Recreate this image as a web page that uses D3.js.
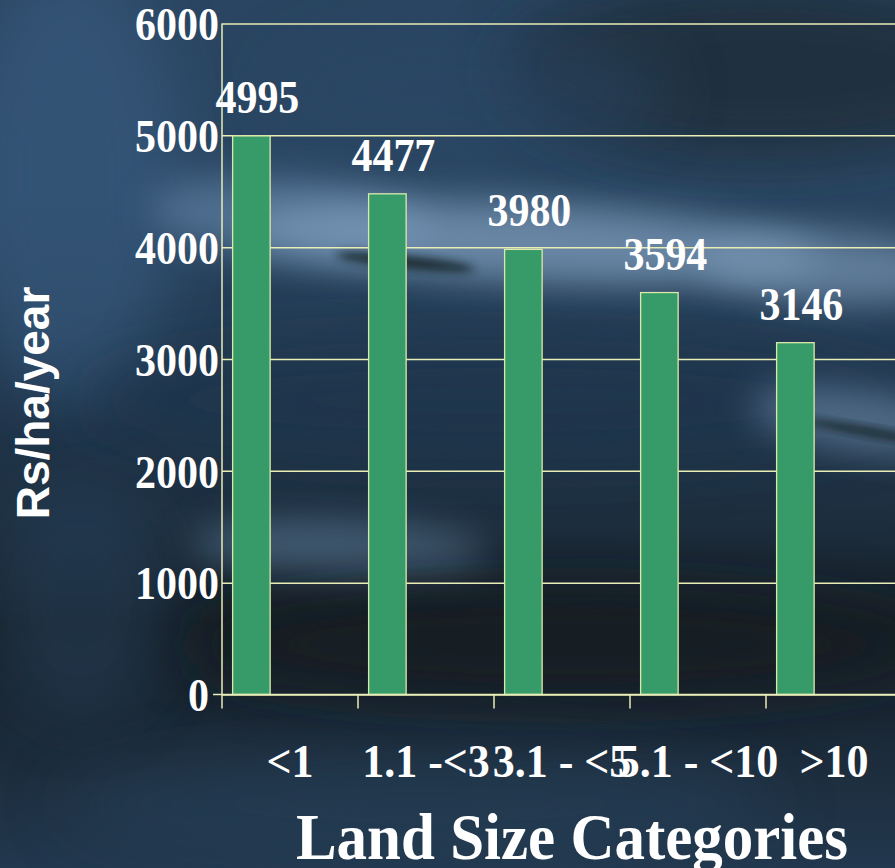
<!DOCTYPE html>
<html>
<head>
<meta charset="utf-8">
<script src="https://cdn.jsdelivr.net/npm/d3@7"></script>
<style>
  html, body { margin: 0; padding: 0; background: #1e3246; }
  svg { display: block; }
</style>
</head>
<body>
<div id="chart"></div>
<script>
// ---- data ----
const categories = ["<1", "1.1 -<3", "3.1 - <5", "5.1 - <10", ">10"];
const values = [4995, 4477, 3980, 3594, 3146];
const yTickValues = [0, 1000, 2000, 3000, 4000, 5000, 6000];
const yTitle = "Rs/ha/year";
const xTitle = "Land Size Categories";

// ---- layout ----
const W = 895, H = 868;
const plot = { left: 222, right: 902, top: 23.5, bottom: 694.5 };
const stretch = 1.08;
const gridColor = "#e9edb6";
const barFill = "#379b69";
const barStroke = "#dbe9aa";

const svg = d3.select("#chart").append("svg").attr("width", W).attr("height", H);
const defs = svg.append("defs");
[["b30", 30], ["b18", 18], ["b8", 8], ["b4", 4]].forEach(([id, s]) => {
  defs.append("filter").attr("id", id).attr("x", "-50%").attr("y", "-50%").attr("width", "200%").attr("height", "200%")
    .append("feGaussianBlur").attr("stdDeviation", s);
});
const lg = defs.append("linearGradient").attr("id", "bgGrad").attr("x1", 0).attr("y1", 0).attr("x2", 0).attr("y2", 1);
[[0, "#2a4561"], [0.22, "#2a4662"], [0.45, "#22384f"], [0.6, "#1d2e3e"], [0.72, "#161f26"], [0.82, "#1a2734"], [1, "#22384e"]]
  .forEach(([o, c]) => lg.append("stop").attr("offset", o).attr("stop-color", c));

// ---- photographic-ish background ----
const bg = svg.append("g");
bg.append("rect").attr("width", W).attr("height", H).attr("fill", "url(#bgGrad)");
const blobs = [
  // cx, cy, rx, ry, color, opacity, filter, rotate
  [70, 180, 110, 220, "#3b5f85", 0.55, "b30", 0],
  [760, 70, 260, 90, "#1b2935", 0.75, "b30", 0],
  [470, 90, 200, 60, "#2a4766", 0.5, "b30", 0],
  [290, 218, 140, 40, "#5f80a3", 0.7, "b18", 4],
  [530, 243, 290, 40, "#7f9ebd", 0.75, "b18", 3],
  [830, 268, 130, 36, "#7895b3", 0.7, "b18", 3],
  [500, 400, 420, 60, "#1f354c", 0.6, "b30", 0],
  [860, 420, 110, 30, "#6a86a6", 0.65, "b18", 8],
  [340, 548, 150, 28, "#5b7b99", 0.6, "b18", 2],
  [560, 645, 380, 58, "#131b20", 0.75, "b30", 0],
  [420, 805, 360, 55, "#28425c", 0.5, "b30", 0],
  [80, 600, 90, 120, "#25425e", 0.5, "b30", 0]
];
blobs.forEach(([cx, cy, rx, ry, c, o, f, r]) => {
  bg.append("ellipse").attr("cx", cx).attr("cy", cy).attr("rx", rx).attr("ry", ry)
    .attr("fill", c).attr("opacity", o).attr("filter", `url(#${f})`)
    .attr("transform", `rotate(${r},${cx},${cy})`);
});
// dark streaks
[[405, 262, 70, 7, 6], [870, 432, 70, 5, 10]].forEach(([cx, cy, rx, ry, r]) => {
  bg.append("ellipse").attr("cx", cx).attr("cy", cy).attr("rx", rx).attr("ry", ry)
    .attr("fill", "#18262c").attr("opacity", 0.85).attr("filter", "url(#b4)")
    .attr("transform", `rotate(${r},${cx},${cy})`);
});

// ---- scales ----
const x = d3.scaleBand().domain(categories).range([plot.left, plot.right]).padding(0);
const y = d3.scaleLinear().domain([0, 6000]).range([plot.bottom, plot.top]);

// ---- gridlines (via axis) ----
const grid = svg.append("g").attr("transform", `translate(${plot.left},0)`)
  .call(d3.axisLeft(y).tickValues(yTickValues).tickSize(-(plot.right - plot.left)).tickFormat(""));
grid.select(".domain").remove();
grid.selectAll("line").attr("stroke", gridColor).attr("stroke-width", 1.5);

// ---- bars ----
const bw = x.bandwidth();
const barOff = bw * 0.078, barW = bw * 0.276;
svg.append("g").selectAll("rect").data(values).join("rect")
  .attr("x", (d, i) => x(categories[i]) + barOff)
  .attr("y", d => y(d))
  .attr("width", barW)
  .attr("height", d => y(0) - y(d))
  .attr("fill", barFill)
  .attr("stroke", barStroke)
  .attr("stroke-width", 1.3);

// ---- axes lines ----
const axisG = svg.append("g").attr("stroke", gridColor).attr("stroke-width", 1.5);
axisG.append("line").attr("x1", plot.left).attr("x2", plot.left).attr("y1", plot.top).attr("y2", plot.bottom + 14);
axisG.append("line").attr("x1", plot.left - 9).attr("x2", plot.right).attr("y1", plot.bottom).attr("y2", plot.bottom);
axisG.selectAll("line.tk").data(categories.slice(1)).join("line").attr("class", "tk")
  .attr("x1", d => x(d)).attr("x2", d => x(d)).attr("y1", plot.bottom).attr("y2", plot.bottom + 14);

// ---- text helpers ----
const serif = "'Liberation Serif', 'Times New Roman', Times, serif";
function stext(g, tx, ty, str, size, anchor, sy) {
  return g.append("text")
    .attr("transform", `translate(${tx},${ty}) scale(1,${sy === undefined ? stretch : sy})`)
    .attr("text-anchor", anchor)
    .attr("font-family", serif).attr("font-weight", "bold").attr("font-size", size)
    .attr("fill", "#ffffff").text(str);
}

// y tick labels
const yl = svg.append("g");
yTickValues.forEach(v => stext(yl, (v === 0 ? plot.left - 13 : plot.left - 3), y(v) + 16.8, String(v), 42, "end"));

// value labels
const vl = svg.append("g");
values.forEach((v, i) => stext(vl, x(categories[i]) + barOff + barW / 2 + 6, y(v) - 23, String(v), 42, "middle"));

// category labels
const cl = svg.append("g");
categories.forEach(c => stext(cl, x(c) + bw / 2, 777, c, 44, "middle", 1.05));

// x title
stext(svg, 572, 859, xTitle, 61, "middle");

// y title
svg.append("text")
  .attr("transform", `translate(49,403) rotate(-90)`)
  .attr("text-anchor", "middle")
  .attr("font-family", "'Liberation Sans', Arial, Helvetica, sans-serif")
  .attr("font-weight", "bold").attr("font-size", 46)
  .attr("fill", "#ffffff").text(yTitle);
</script>
</body>
</html>
